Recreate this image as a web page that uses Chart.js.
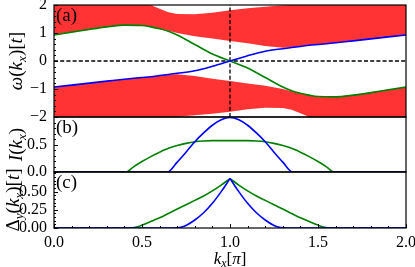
<!DOCTYPE html>
<html>
<head>
<meta charset="utf-8">
<script src="https://cdn.jsdelivr.net/npm/chart.js@4.4.1/dist/chart.umd.min.js"></script>
<style>
  html, body { margin: 0; padding: 0; background: #fff; }
  #wrap { position: relative; width: 415px; height: 267px; }
  #wrap canvas { position: absolute; left: 0; top: 0; }
</style>
</head>
<body>
<div id="wrap">
  <canvas id="chartA" width="415" height="267"></canvas>
  <canvas id="chartB" width="415" height="267"></canvas>
  <canvas id="chartC" width="415" height="267"></canvas>
</div>
<script>
// panel (a): spectrum omega(kx)
var kxA = [0, 0.1, 0.2, 0.3, 0.4, 0.5, 0.55, 0.6, 0.65, 0.7, 0.8, 0.9, 1.0, 1.1, 1.2, 1.3, 1.35, 1.4, 1.45, 1.5, 1.6, 1.7, 1.8, 1.9, 2.0];
var omegaGreen = [0.93, 1.03, 1.13, 1.22, 1.28, 1.27, 1.22, 1.15, 1.06, 0.93, 0.59, 0.25, 0, -0.25, -0.59, -0.93, -1.06, -1.15, -1.22, -1.27, -1.28, -1.22, -1.13, -1.03, -0.93];
var omegaBlue = [-0.93, -0.86, -0.79, -0.72, -0.65, -0.59, -0.56, -0.52, -0.48, -0.44, -0.35, -0.19, 0, 0.19, 0.35, 0.44, 0.48, 0.52, 0.56, 0.59, 0.65, 0.72, 0.79, 0.86, 0.93];
// continuum bands (red)
var bandUpTop = [2, 2, 2, 2, 2, 2, 2, 1.87, 1.74, 1.68, 1.67, 1.72, 1.81, 1.88, 1.94, 1.99, 2, 2, 2, 2, 2, 2, 2, 2, 2];
var bandUpBot = [0.93, 1.03, 1.13, 1.22, 1.28, 1.27, 1.22, 1.15, 1.08, 1.00, 0.88, 0.80, 0.71, 0.63, 0.54, 0.47, 0.48, 0.52, 0.56, 0.59, 0.65, 0.72, 0.79, 0.86, 0.93];
var bandLoTop = [-0.93, -0.86, -0.79, -0.72, -0.65, -0.59, -0.56, -0.52, -0.48, -0.47, -0.54, -0.63, -0.71, -0.80, -0.88, -1.00, -1.08, -1.15, -1.22, -1.27, -1.28, -1.22, -1.13, -1.03, -0.93];
var bandLoBot = [-2, -2, -2, -2, -2, -2, -2, -2, -2, -1.99, -1.94, -1.88, -1.81, -1.72, -1.67, -1.68, -1.74, -1.87, -2, -2, -2, -2, -2, -2, -2];

// panel (b): I(kx)
var kxIBlue = [0, 0.644, 0.7, 0.75, 0.8, 0.85, 0.9, 0.95, 1.0, 1.05, 1.1, 1.15, 1.2, 1.25, 1.3, 1.356, 2.0];
var IBlue = [0, 0, 0.18, 0.36, 0.55, 0.71, 0.85, 0.95, 0.99, 0.95, 0.85, 0.71, 0.55, 0.36, 0.18, 0, 0];
var kxIGreen = [0, 0.41, 0.45, 0.5, 0.55, 0.6, 0.65, 0.7, 0.75, 0.8, 0.85, 0.9, 1.0, 1.1, 1.15, 1.2, 1.25, 1.3, 1.35, 1.4, 1.45, 1.5, 1.55, 1.59, 2.0];
var IGreen = [0, 0, 0.09, 0.19, 0.28, 0.36, 0.43, 0.48, 0.52, 0.55, 0.565, 0.57, 0.57, 0.57, 0.565, 0.55, 0.52, 0.48, 0.43, 0.36, 0.28, 0.19, 0.09, 0, 0];

// panel (c): Delta_y(kx)
var kxDBlue = [0, 0.68, 0.72, 0.75, 0.8, 0.85, 0.9, 0.95, 1.0, 1.05, 1.1, 1.15, 1.2, 1.25, 1.28, 1.32, 2.0];
var DBlue = [0, 0, 0.01, 0.035, 0.11, 0.21, 0.34, 0.50, 0.68, 0.50, 0.34, 0.21, 0.11, 0.035, 0.01, 0, 0];
var kxDGreen = [0, 0.43, 0.47, 0.5, 0.55, 0.6, 0.65, 0.7, 0.75, 0.8, 0.85, 0.9, 0.95, 1.0, 1.05, 1.1, 1.15, 1.2, 1.25, 1.3, 1.35, 1.4, 1.45, 1.5, 1.53, 1.57, 2.0];
var DGreen = [0, 0, 0.015, 0.04, 0.09, 0.14, 0.20, 0.26, 0.32, 0.38, 0.44, 0.51, 0.59, 0.68, 0.59, 0.51, 0.44, 0.38, 0.32, 0.26, 0.20, 0.14, 0.09, 0.04, 0.015, 0, 0];

// ticks
var ticksA = [-2, -1, 0, 1, 2];
var ticksB = [0, 0.5];
var ticksC = [0, 0.25, 0.5];
var ticksX = [0, 0.5, 1, 1.5, 2];
var kxCross = 1.0;

var RED = 'rgba(255,0,0,0.8)';
var FONT = 'Liberation Serif';

function pts(xs, ys) {
    return xs.map(function (x, i) { return { x: x, y: ys[i] }; });
}

function curve(data, color, extra) {
    var ds = {
        data: data,
        borderColor: color,
        borderWidth: 1.6,
        pointRadius: 0,
        fill: false,
        cubicInterpolationMode: 'monotone'
    };
    return Object.assign(ds, extra || {});
}

function band(data, fillTo) {
    return {
        data: data,
        borderWidth: 0,
        borderColor: 'rgba(0,0,0,0)',
        backgroundColor: RED,
        pointRadius: 0,
        tension: 0,
        fill: fillTo
    };
}

// draw a small math-like label with italic / subscript parts
function drawMath(ctx, parts, cx, cy, size, rotated) {
    var fonts = parts.map(function (p) {
        if (p[1] === 's') return 'italic ' + (size * 0.7) + 'px "' + FONT + '"';
        if (p[1] === 'i') return 'italic ' + size + 'px "' + FONT + '"';
        return size + 'px "' + FONT + '"';
    });
    var total = 0, widths = [];
    parts.forEach(function (p, i) {
        ctx.font = fonts[i];
        var w = ctx.measureText(p[0]).width;
        widths.push(w);
        total += w;
    });
    ctx.save();
    ctx.translate(cx, cy);
    if (rotated) ctx.rotate(-Math.PI / 2);
    ctx.fillStyle = '#000';
    ctx.textBaseline = 'alphabetic';
    var x = -total / 2, base = size * 0.27;
    parts.forEach(function (p, i) {
        ctx.font = fonts[i];
        ctx.fillText(p[0], x, p[1] === 's' ? base + size * 0.22 : base);
        x += widths[i];
    });
    ctx.restore();
}

function framePlugin(cfg) {
    return {
        id: 'frame',
        afterDraw: function (chart) {
            var ctx = chart.ctx, a = chart.chartArea;
            var ys = chart.scales.y, xs = chart.scales.x;
            ctx.save();
            ctx.strokeStyle = '#000';
            ctx.lineWidth = 1;
            // inward y ticks
            var n = Math.round((ys.max - ys.min) / cfg.minorY);
            for (var i = 0; i <= n; i++) {
                var v = ys.min + i * cfg.minorY;
                var major = cfg.majorY.some(function (m) { return Math.abs(m - v) < 1e-6; });
                var py = Math.round(ys.getPixelForValue(v)) + 0.5;
                ctx.beginPath();
                ctx.moveTo(a.left, py);
                ctx.lineTo(a.left + (major ? 4 : 2), py);
                ctx.stroke();
            }
            if (cfg.xTicks) {
                var m = Math.round((xs.max - xs.min) / 0.1);
                for (var j = 0; j <= m; j++) {
                    var vx = xs.min + j * 0.1;
                    var majorX = ticksX.some(function (t) { return Math.abs(t - vx) < 1e-6; });
                    var px = Math.round(xs.getPixelForValue(vx)) + 0.5;
                    ctx.beginPath();
                    ctx.moveTo(px, a.bottom);
                    ctx.lineTo(px, a.bottom - (majorX ? 4 : 2));
                    ctx.stroke();
                }
            }
            ctx.lineWidth = 1.2;
            ctx.strokeRect(a.left, a.top, a.right - a.left, a.bottom - a.top);
            ctx.fillStyle = '#000';
            ctx.font = '19px "' + FONT + '"';
            ctx.textBaseline = 'top';
            ctx.textAlign = 'left';
            ctx.fillText(cfg.tag, a.left + 2, a.top + 2);
            ctx.restore();
            drawMath(ctx, cfg.title, cfg.titleX, (a.top + a.bottom) / 2, 19, true);
            if (cfg.xTitle) drawMath(ctx, cfg.xTitle, (a.left + a.right) / 2, 259, 17, false);
        }
    };
}

function makeOptions(top, bottom, ymin, ymax, tickVals, fmt, showX) {
    return {
        responsive: false,
        animation: false,
        events: [],
        layout: { padding: { left: 0, right: 9, top: top, bottom: showX ? 0 : bottom } },
        plugins: { legend: { display: false }, tooltip: { enabled: false } },
        scales: {
            x: {
                type: 'linear', min: 0, max: 2,
                display: showX,
                grid: { display: false, drawTicks: false },
                border: { display: false },
                afterBuildTicks: function (s) { s.ticks = ticksX.map(function (v) { return { value: v }; }); },
                afterFit: function (s) {
                    s.paddingLeft = 0; s.paddingRight = 0;
                    if (showX) s.height = 267 - 228; else s.height = 0;
                },
                ticks: {
                    padding: 5, color: '#000', font: { family: FONT, size: 16 },
                    maxRotation: 0, autoSkip: false,
                    callback: function (v) { return v.toFixed(1); }
                }
            },
            y: {
                type: 'linear', min: ymin, max: ymax,
                grid: { display: false, drawTicks: false },
                border: { display: false },
                afterBuildTicks: function (s) { s.ticks = tickVals.map(function (v) { return { value: v }; }); },
                afterFit: function (s) { s.width = 54; s.paddingTop = 0; s.paddingBottom = 0; },
                ticks: {
                    padding: 7, color: '#000', font: { family: FONT, size: 16 },
                    autoSkip: false,
                    callback: fmt
                }
            }
        }
    };
}

function minus(s) { return s.replace('-', '\u2212'); }

// panel (a)
new Chart(document.getElementById('chartA'), {
    type: 'line',
    data: {
        datasets: [
            curve(pts(kxA, omegaBlue), '#0000ff'),
            curve(pts(kxA, omegaGreen), '#008000'),
            { data: [{ x: 0, y: 0 }, { x: 2, y: 0 }], borderColor: '#000', borderWidth: 1.3, borderDash: [4, 2.2], pointRadius: 0, fill: false },
            { data: [{ x: kxCross, y: -2 }, { x: kxCross, y: 2 }], borderColor: '#000', borderWidth: 1.3, borderDash: [4, 2.2], pointRadius: 0, fill: false },
            band(pts(kxA, bandUpTop), 5),
            band(pts(kxA, bandUpBot), false),
            band(pts(kxA, bandLoTop), 7),
            band(pts(kxA, bandLoBot), false)
        ]
    },
    options: makeOptions(5, 267 - 117, -2, 2, ticksA, function (v) { return minus(String(v)); }, false),
    plugins: [framePlugin({
        minorY: 0.2, majorY: ticksA, tag: '(a)', titleX: 17,
        title: [['ω', 'i'], ['(', 'r'], ['k', 'i'], ['x', 's'], [')', 'r'], ['[', 'r'], ['t', 'i'], [']', 'r']]
    })]
});

// panel (b)
new Chart(document.getElementById('chartB'), {
    type: 'line',
    data: {
        datasets: [
            curve(pts(kxIBlue, IBlue), '#0000ff'),
            curve(pts(kxIGreen, IGreen), '#008000')
        ]
    },
    options: makeOptions(117, 267 - 172, 0, 1.0, ticksB, function (v) { return v.toFixed(1); }, false),
    plugins: [framePlugin({
        minorY: 0.1, majorY: ticksB, tag: '(b)', titleX: 17,
        title: [['I', 'i'], ['(', 'r'], ['k', 'i'], ['x', 's'], [')', 'r']]
    })]
});

// panel (c): split curves at the cusp so it stays sharp
function leftOf(d) { return d.filter(function (p) { return p.x <= kxCross; }); }
function rightOf(d) { return d.filter(function (p) { return p.x >= kxCross; }); }
var dBlue = pts(kxDBlue, DBlue), dGreen = pts(kxDGreen, DGreen);

new Chart(document.getElementById('chartC'), {
    type: 'line',
    data: {
        datasets: [
            curve(leftOf(dBlue), '#0000ff'),
            curve(rightOf(dBlue), '#0000ff'),
            curve(leftOf(dGreen), '#008000'),
            curve(rightOf(dGreen), '#008000')
        ]
    },
    options: makeOptions(172, 0, 0, 0.77, ticksC, function (v) { return v.toFixed(2); }, true),
    plugins: [framePlugin({
        minorY: 0.05, majorY: ticksC, tag: '(c)', titleX: 14, xTicks: true,
        title: [['Δ', 'r'], ['y', 's'], ['(', 'r'], ['k', 'i'], ['x', 's'], [')', 'r'], ['[', 'r'], ['t', 'i'], [']', 'r']],
        xTitle: [['k', 'i'], ['x', 's'], ['[', 'r'], ['π', 'i'], [']', 'r']]
    })]
});
</script>
</body>
</html>
